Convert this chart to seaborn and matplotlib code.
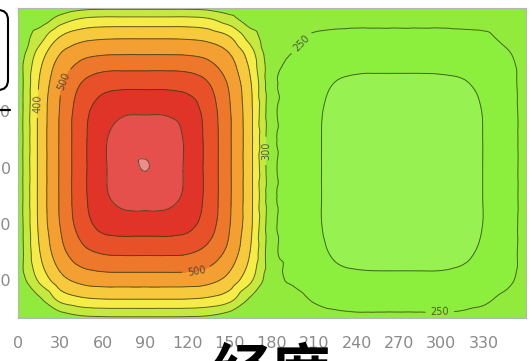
import matplotlib
matplotlib.use("Agg")
import numpy as np
import matplotlib.pyplot as plt
import matplotlib.tri as mtri
import seaborn as sns
from matplotlib.colors import ListedColormap, BoundaryNorm
from matplotlib.patches import FancyBboxPatch
from matplotlib.lines import Line2D

# Grid nodes (degrees)
lon = [0, 15, 30, 45, 60, 75, 90, 105, 120, 135, 150, 165, 180,
       195, 210, 225, 240, 255, 270, 285, 300, 315, 330, 345, 360]
lat = [-80, -70, -60, -45, -30, -15, 0, 15, 30, 45, 60, 70, 80, 85]

# Field values along each latitude row, lon 0 -> 360
z_s80 = [265, 265, 269, 287, 292, 293, 293, 293, 292, 287, 269, 265, 265,
         265, 262, 257, 255, 255, 255, 255, 255, 256, 260, 265, 265]
z_s70 = [265, 292, 365, 391, 399, 400, 400, 400, 399, 391, 365, 292, 265,
         263, 246, 240, 238, 238, 238, 238, 238, 240, 244, 258, 265]
z_s60 = [265, 357, 430, 463, 472, 473, 473, 473, 472, 463, 430, 357, 265,
         245, 225, 214, 211, 210, 210, 210, 210, 213, 221, 239, 265]
z_s45 = [265, 396, 482, 533, 555, 559, 559, 559, 555, 533, 482, 396, 265,
         238, 213, 195, 188, 186, 186, 186, 187, 193, 207, 230, 265]
z_s30 = [265, 409, 502, 573, 616, 626, 626, 626, 616, 573, 502, 409, 265,
         235, 208, 188, 179, 176, 176, 176, 177, 184, 201, 228, 265]
z_s15 = [265, 411, 506, 583, 639, 667, 670, 667, 639, 583, 506, 411, 265,
         235, 208, 187, 176, 174, 173, 173, 175, 183, 201, 227, 265]
z_eq = [265, 411, 506, 583, 641, 677, 702, 677, 641, 583, 506, 411, 265,
        235, 208, 187, 176, 173, 170, 173, 175, 183, 201, 227, 265]
z_n15 = [265, 411, 506, 583, 641, 674, 681, 674, 641, 583, 506, 411, 265,
         235, 208, 187, 177, 174, 174, 174, 176, 183, 201, 227, 265]
z_n30 = [265, 410, 504, 578, 627, 643, 644, 643, 627, 578, 504, 410, 265,
         236, 209, 189, 180, 178, 178, 178, 179, 185, 202, 228, 265]
z_n45 = [265, 402, 491, 551, 578, 584, 584, 584, 578, 551, 491, 402, 265,
         239, 215, 199, 193, 192, 192, 192, 193, 197, 210, 232, 265]
z_n60 = [265, 373, 453, 487, 499, 501, 501, 501, 499, 487, 453, 373, 265,
         248, 230, 222, 219, 218, 218, 218, 219, 221, 227, 243, 265]
z_n70 = [265, 325, 399, 429, 438, 440, 440, 440, 438, 429, 399, 325, 265,
         263, 246, 240, 238, 238, 238, 238, 238, 240, 244, 258, 265]
z_n80 = [265, 265, 313, 345, 353, 353, 353, 353, 353, 345, 313, 265, 265,
         265, 265, 265, 264, 264, 264, 264, 264, 265, 265, 265, 265]
z_n85 = [265, 265, 267, 286, 291, 291, 291, 291, 291, 286, 267, 265, 265,
         265, 265, 265, 265, 265, 265, 265, 265, 265, 265, 265, 265]

levels = [100, 200, 250, 300, 350, 400, 450, 500, 550, 600, 650, 700, 800]
line_levels = [200, 250, 300, 350, 400, 450, 500, 550, 600, 650, 700]
x_ticks = [0, 30, 60, 90, 120, 150, 180, 210, 240, 270, 300, 330]
y_ticks = [-60, -30, 0, 30, 60]

band_colors = ["#97f251", "#8cef3e", "#92ea3c", "#c6e93f", "#f5ec48",
               "#f7c93c", "#f39f31", "#ed772b", "#e75028", "#e13428",
               "#e6504c", "#ee8c8a"]

Z = np.array([z_s80, z_s70, z_s60, z_s45, z_s30, z_s15, z_eq,
              z_n15, z_n30, z_n45, z_n60, z_n70, z_n80, z_n85], dtype=float)

sns.set_theme(style="white")
plt.rcParams["font.family"] = ["Liberation Sans Narrow", "DejaVu Sans"]

fig = plt.figure(figsize=(5.3, 3.61), dpi=100)
ax = fig.add_axes([18 / 530, 43 / 361, 508 / 530, 310 / 361])

# smooth contouring on a refined triangulation of the grid
LON, LAT = np.meshgrid(lon, lat)
tri = mtri.Triangulation(LON.ravel(), LAT.ravel())
interp = mtri.CubicTriInterpolator(tri, Z.ravel(), kind="geom")
tri_fine, z_fine = mtri.UniformTriRefiner(tri).refine_field(
    Z.ravel(), triinterpolator=interp, subdiv=3)

cmap = ListedColormap(band_colors)
norm = BoundaryNorm(levels, cmap.N)
ax.tricontourf(tri_fine, z_fine, levels=levels, cmap=cmap, norm=norm)
cs = ax.tricontour(tri_fine, z_fine, levels=line_levels, colors="#2f3f12",
                   linewidths=0.7, alpha=0.8)
ax.clabel(cs, manual=[(13, 34), (35, 45), (127, -58), (178, 9),
                      (200, 67), (299, -78)],
          inline=True, fontsize=7, fmt="%d", colors="#3a3a3a")

ax.set_xlim(0, 360)
ax.set_ylim(-80, 85)
ax.set_xticks(x_ticks)
ax.set_yticks(y_ticks)
ax.tick_params(direction="in", top=True, right=True, length=4, width=0.8,
               color="#333333", labelsize=11.5, labelcolor="#8a8a8a")
ax.tick_params(axis="x", pad=13)
ax.tick_params(axis="y", pad=5)
for sp in ax.spines.values():
    sp.set_color("#b5b5b5")
    sp.set_linewidth(0.8)

# callout box and pointer at the left edge
box = FancyBboxPatch((-0.3, 2.71), 0.38, 0.80,
                     boxstyle="round,pad=0,rounding_size=0.1",
                     transform=fig.dpi_scale_trans, fc="white", ec="black",
                     lw=1.5, clip_on=False, zorder=5)
fig.add_artist(box)
fig.add_artist(Line2D([0, 0.10], [2.51, 2.51], transform=fig.dpi_scale_trans,
                      color="black", lw=1.6, zorder=5))

fig.text(2.72, -0.31, "经度", transform=fig.dpi_scale_trans, ha="center",
         va="baseline", fontsize=43, fontweight="bold", color="black",
         family=["Noto Sans CJK SC", "DejaVu Sans"])

fig.savefig("out.png", dpi=100)
